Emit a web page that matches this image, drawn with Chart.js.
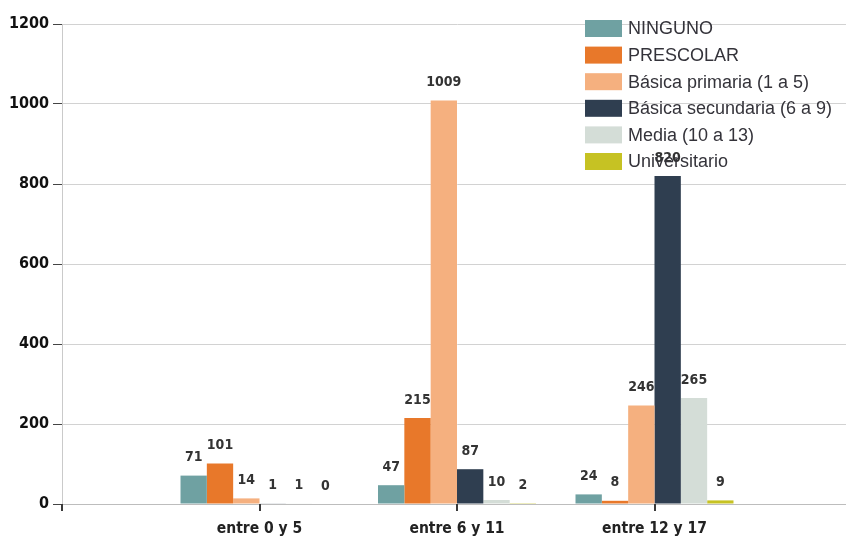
<!DOCTYPE html>
<html>
<head>
<meta charset="utf-8">
<script src="https://cdn.jsdelivr.net/npm/chart.js@4"></script>
<style>
  html, body { margin: 0; padding: 0; background: #ffffff; overflow: hidden; }
  canvas { display: block; }
</style>
</head>
<body>
<canvas id="chart" width="862" height="539"></canvas>
<script>
// Age groups on the x axis
const categories = ['entre 0 y 5', 'entre 6 y 11', 'entre 12 y 17'];

// Number of people per education level, one value per age group
const ninguno      = [71, 47, 24];
const prescolar    = [101, 215, 8];
const primaria     = [14, 1009, 246];
const secundaria   = [1, 87, 820];
const media        = [1, 10, 265];
const universitario = [0, 2, 9];

const seriesNames = [
  'NINGUNO',
  'PRESCOLAR',
  'Básica primaria (1 a 5)',
  'Básica secundaria (6 a 9)',
  'Media (10 a 13)',
  'Universitario'
];
const seriesValues = [ninguno, prescolar, primaria, secundaria, media, universitario];
const seriesColors = ['#6fa1a2', '#e8782a', '#f5b07f', '#2f3e50', '#d4ddd7', '#c6c223'];

// Value axis ticks
const yTicks = [0, 200, 400, 600, 800, 1000, 1200];

// The groups sit on interior positions of the axis, with an empty slot at each end
const axisLabels = ['', ...categories, ''];

const datasets = seriesNames.map((name, i) => ({
  label: name,
  data: [null, ...seriesValues[i], null],
  backgroundColor: seriesColors[i],
  borderWidth: 0,
  categoryPercentage: 0.8,
  barPercentage: 1.0
}));

const tickFont = { family: '"DejaVu Sans Condensed", "DejaVu Sans", sans-serif', weight: 'bold', size: 16 };
const catFont  = { family: '"DejaVu Sans Condensed", "DejaVu Sans", sans-serif', weight: 'bold', size: 15.5 };

// Value labels above each bar
const valueLabels = {
  id: 'valueLabels',
  afterDatasetsDraw(chart) {
    const ctx = chart.ctx;
    ctx.save();
    ctx.font = 'bold 14px "DejaVu Sans Condensed", "DejaVu Sans", sans-serif';
    ctx.fillStyle = '#333333';
    ctx.textAlign = 'center';
    ctx.textBaseline = 'middle';
    chart.data.datasets.forEach((ds, di) => {
      const meta = chart.getDatasetMeta(di);
      meta.data.forEach((bar, idx) => {
        const v = ds.data[idx];
        if (v === null || v === undefined) return;
        ctx.fillText(String(v), bar.x, bar.y - 18);
      });
    });
    ctx.restore();
  }
};

// Short marks below the category axis at each category position
const categoryMarks = {
  id: 'categoryMarks',
  afterDraw(chart) {
    const xs = chart.scales.x;
    const ctx = chart.ctx;
    const base = chart.chartArea.bottom;
    ctx.save();
    ctx.fillStyle = '#3a3a3a';
    axisLabels.forEach((lbl, i) => {
      const px = Math.round(xs.getPixelForValue(i));
      ctx.fillRect(px - 1, base, 2, 7);
    });
    ctx.restore();
  }
};

// Legend drawn inside the plot, top right, without a background
const insideLegend = {
  id: 'insideLegend',
  afterDraw(chart) {
    const ctx = chart.ctx;
    const x0 = 585, y0 = 28.5, step = 26.6, boxW = 37, boxH = 17;
    ctx.save();
    ctx.font = '18px "Liberation Sans", Arial, sans-serif';
    ctx.textAlign = 'left';
    ctx.textBaseline = 'middle';
    chart.data.datasets.forEach((ds, i) => {
      const cy = y0 + i * step;
      ctx.fillStyle = ds.backgroundColor;
      ctx.fillRect(x0, cy - boxH / 2, boxW, boxH);
      ctx.fillStyle = '#34333a';
      ctx.fillText(ds.label, x0 + 43, cy + 1);
    });
    ctx.restore();
  }
};

new Chart(document.getElementById('chart'), {
  type: 'bar',
  data: { labels: axisLabels, datasets },
  options: {
    responsive: false,
    animation: false,
    devicePixelRatio: 1,
    layout: { padding: { top: 24, right: 0, bottom: 0, left: 0 } },
    plugins: {
      legend: { display: false },
      tooltip: { enabled: false }
    },
    scales: {
      x: {
        type: 'category',
        offset: false,
        grid: {
          offset: false,
          drawOnChartArea: false,
          drawTicks: true,
          tickLength: 6,
          tickColor: 'rgba(0,0,0,0)'
        },
        border: { color: '#bdbdbd', width: 1 },
        ticks: {
          autoSkip: false,
          maxRotation: 0,
          minRotation: 0,
          padding: 10,
          color: '#222222',
          font: catFont
        },
        afterFit(scale) { scale.height = 35; }
      },
      y: {
        min: 0,
        max: 1200,
        grid: {
          color: '#d2d2d2',
          lineWidth: 1,
          drawTicks: true,
          tickLength: 9,
          tickColor: '#444444'
        },
        border: { color: '#cacaca', width: 1 },
        ticks: {
          padding: 4,
          color: '#111111',
          font: tickFont,
          callback: (value) => String(value)
        },
        afterBuildTicks(scale) {
          scale.ticks = yTicks.map(v => ({ value: v }));
        },
        afterFit(scale) { scale.width = 62; }
      }
    }
  },
  plugins: [valueLabels, categoryMarks, insideLegend]
});
</script>
</body>
</html>
